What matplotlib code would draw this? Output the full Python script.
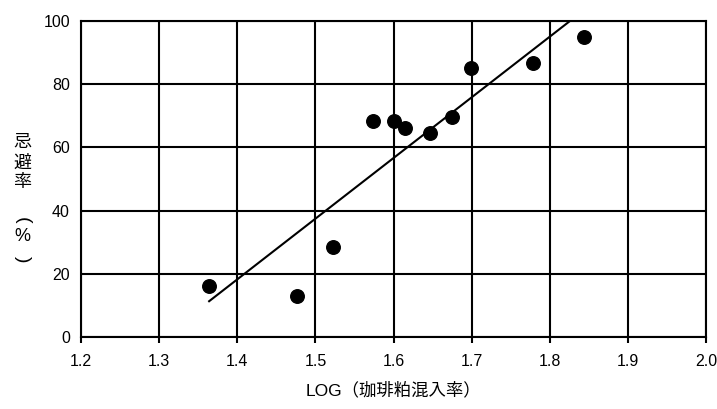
import numpy as np
import matplotlib.pyplot as plt

# data
log_mix = [1.364, 1.477, 1.522, 1.574, 1.601, 1.615, 1.647, 1.675, 1.699, 1.778, 1.844]
avoid_rate = [16.0, 13.0, 28.4, 68.2, 68.4, 66.0, 64.4, 69.6, 85.0, 86.8, 94.8]
xticks = [1.2, 1.3, 1.4, 1.5, 1.6, 1.7, 1.8, 1.9, 2.0]
yticks = [0, 20, 40, 60, 80, 100]

plt.rcParams['font.family'] = ['Liberation Sans', 'Noto Sans CJK JP']

fig = plt.figure(figsize=(7.17, 4.09), dpi=100)
ax = fig.add_axes([81/717, 1-337/409, 625/717, 316/409])

# regression line
k, b = np.polyfit(log_mix, avoid_rate, 1)
xl = np.array([min(log_mix), 2.0])
ax.plot(xl, k*xl + b, color='black', lw=1.5, zorder=3)

ax.scatter(log_mix, avoid_rate, s=95, color='black', zorder=4)

ax.set_xlim(1.2, 2.0)
ax.set_ylim(0, 100)
ax.set_xticks(xticks)
ax.set_xticklabels(['%.1f' % v for v in xticks])
ax.set_yticks(yticks)
ax.grid(True, color='black', lw=1.5)
ax.set_axisbelow(True)
for s in ax.spines.values():
    s.set_linewidth(1.5)
ax.tick_params(axis='x', length=4, width=1.5, labelsize=11.5, pad=8)
ax.tick_params(axis='y', length=0, labelsize=11.5, pad=8)

ax.set_xlabel('LOG（珈琲粕混入率）', fontsize=12.5, labelpad=9)

# vertical y label, one character per line
for ch, ypx in [('忌', 143), ('避', 163), ('率', 183), ('%', 237)]:
    fig.text(22/717, 1-ypx/409, ch, fontsize=13, ha='center', va='center')
# brackets turned to read top-to-bottom
fig.text(22/717, 1-220/409, '(', fontsize=14, ha='center', va='center', rotation=-90)
fig.text(22/717, 1-259/409, ')', fontsize=14, ha='center', va='center', rotation=-90)

fig.savefig('out.png', dpi=100)
